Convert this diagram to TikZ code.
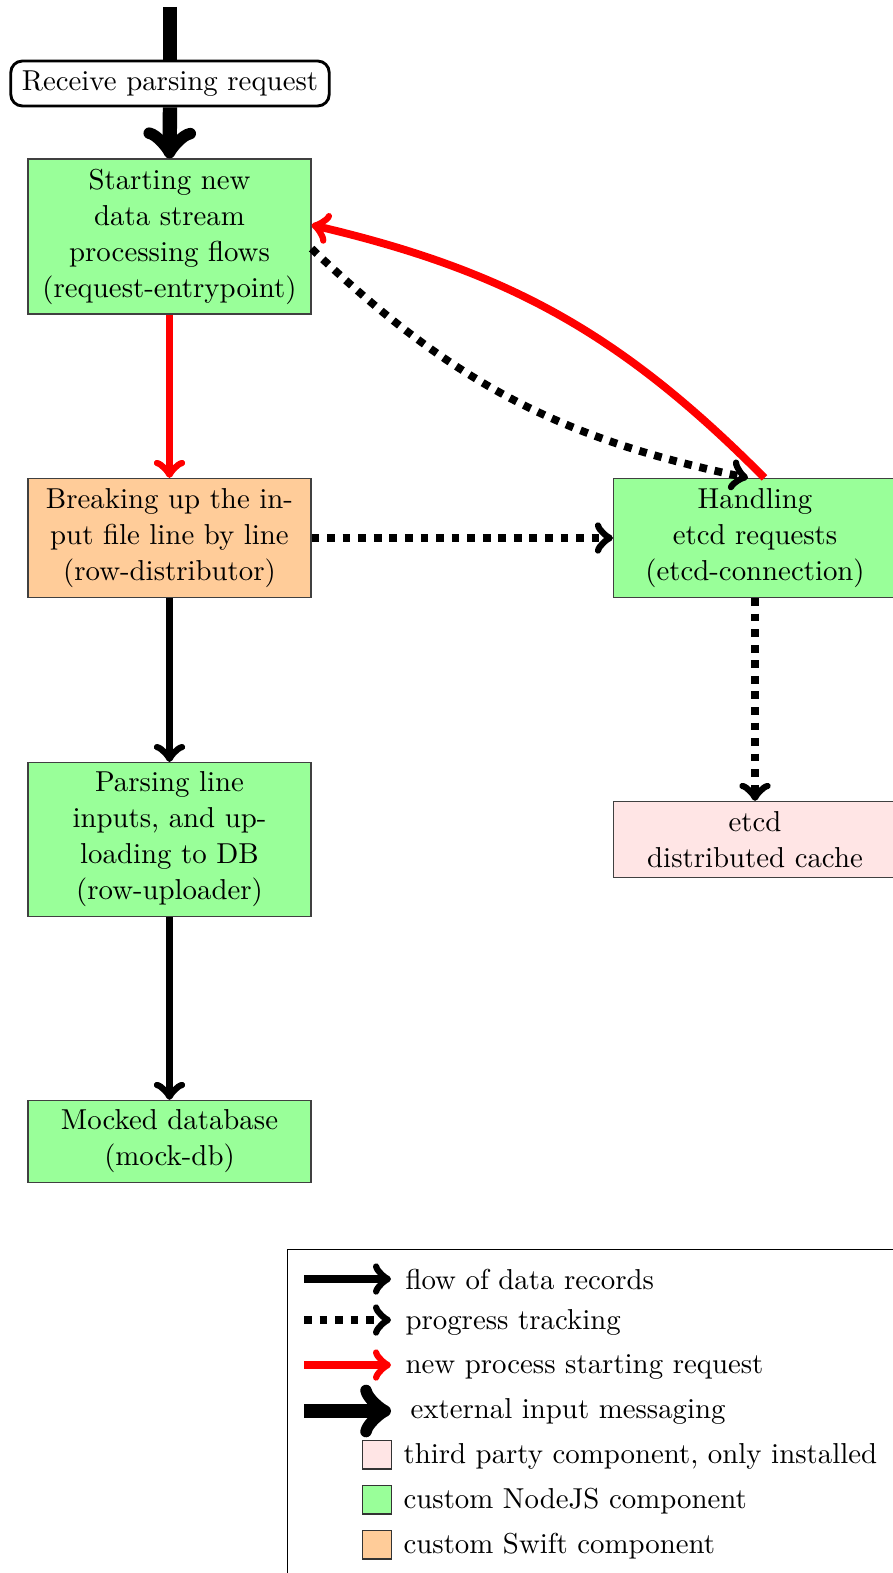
\documentclass[tikz,border=0pt]{standalone}
\usetikzlibrary{arrows}
\definecolor{nodegreen}{RGB}{153,255,153}
\definecolor{nodeorange}{RGB}{255,204,153}
\definecolor{nodepink}{RGB}{255,229,229}
\begin{document}
\begin{tikzpicture}[x=0.347pt,y=-0.347pt,
  comp/.style={draw=black!75,line width=0.4pt,minimum width=98.2pt,align=center,inner sep=2pt,font=\fontsize{10}{12.5}\selectfont},
  flow/.style={->,line width=2.7pt},
  prog/.style={->,line width=2.7pt,dash pattern=on 2.7pt off 2.7pt},
  startreq/.style={->,line width=2.7pt,red},
  extin/.style={->,line width=5pt},
  swatch/.style={draw=black!80,line width=0.4pt,minimum width=10.2pt,minimum height=10pt,inner sep=0pt},
  legtext/.style={anchor=base west,inner sep=0pt}]
\useasboundingbox (0,0) rectangle (893,1573);
\clip (0,0) rectangle (893,1573);

\coordinate (top) at (170,7);
\node[draw,rounded corners=4pt,line width=1pt,minimum width=110.5pt,minimum height=15.6pt,inner sep=2pt] (recv) at (170,83.5) {Receive parsing request};
\node[comp,fill=nodegreen,minimum height=53.8pt] (entry) at (169.5,236.5) {Starting new\\data stream\\processing flows\\(request-entrypoint)};
\node[comp,fill=nodeorange,minimum height=41.3pt] (dist) at (169.5,538) {Breaking up the in-\\put file line by line\\(row-distributor)};
\node[comp,fill=nodegreen,minimum height=53.4pt] (upl) at (169.5,839.5) {Parsing line\\inputs, and up-\\loading to DB\\(row-uploader)};
\node[comp,fill=nodegreen,minimum height=28.5pt] (mock) at (169.5,1141.5) {Mocked database\\(mock-db)};
\node[comp,fill=nodegreen,minimum height=41.3pt] (etcdc) at (755,538) {Handling\\etcd requests\\(etcd-connection)};
\node[comp,fill=nodepink,minimum height=26.4pt] (etcd) at (755,839.5) {etcd\\distributed cache};

\draw[line width=5pt] (top) -- (recv.north);
\draw[extin] (recv.south) -- (entry.north);
\draw[startreq] (entry.south) -- (dist.north);
\draw[flow] (dist.south) -- (upl.north);
\draw[flow] (upl.south) -- (mock.north);
\draw[prog] (dist.east) -- (etcdc.west);
\draw[prog] (etcdc.south) -- (etcd.north);
\draw[startreq] ([xshift=3.3pt]etcdc.north) to[bend right=16] ([yshift=4pt]entry.east);
\draw[prog] ([yshift=-4.2pt]entry.east) to[bend right=16] ([xshift=-2.4pt]etcdc.north);

% legend
\node[draw,line width=0.4pt,minimum width=250pt,minimum height=130pt,anchor=north west] (legend) at (287,1249) {};
\coordinate (l1a) at (304,1279); \coordinate (l1b) at (391,1279);
\coordinate (l2a) at (304,1320); \coordinate (l2b) at (391,1320);
\coordinate (l3a) at (304,1365); \coordinate (l3b) at (391,1365);
\coordinate (l4a) at (304,1411); \coordinate (l4b) at (391,1411);
\draw[flow] (l1a) -- (l1b);
\draw[prog] (l2a) -- (l2b);
\draw[startreq] (l3a) -- (l3b);
\draw[extin] (l4a) -- (l4b);
\node[legtext] (t1) at (405,1289) {flow of data records};
\node[legtext] (t2) at (405,1329) {progress tracking};
\node[legtext] (t3) at (405,1373) {new process starting request};
\node[legtext] (t4) at (410,1418) {external input messaging};
\node[swatch,fill=nodepink] (s1) at (377,1454.5) {};
\node[swatch,fill=nodegreen] (s2) at (377,1499.5) {};
\node[swatch,fill=nodeorange] (s3) at (377,1544.5) {};
\node[legtext] (t5) at (403,1463) {third party component, only installed};
\node[legtext] (t6) at (403,1508) {custom NodeJS component};
\node[legtext] (t7) at (403,1553) {custom Swift component};
\end{tikzpicture}
\end{document}
